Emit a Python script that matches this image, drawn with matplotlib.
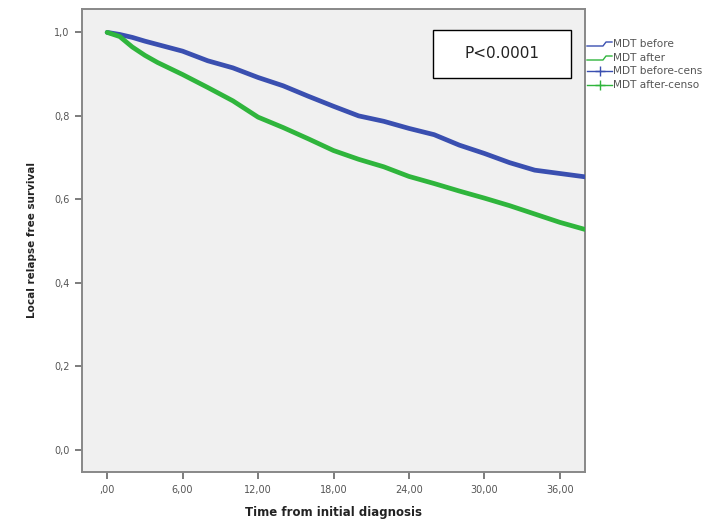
import matplotlib
matplotlib.use("Agg")
import matplotlib.pyplot as plt
from matplotlib.lines import Line2D
from matplotlib.patches import Rectangle

# ---- data ----
time_months = [0, 1, 2, 3, 4, 6, 8, 10, 12, 14, 16, 18, 20, 22, 24, 26, 28, 30, 32, 34, 36, 38]
mdt_before = [1.0, 0.995, 0.988, 0.979, 0.971, 0.955, 0.932, 0.915, 0.892, 0.872, 0.847, 0.823,
              0.800, 0.787, 0.770, 0.755, 0.730, 0.710, 0.688, 0.670, 0.662, 0.654]
mdt_after = [1.0, 0.990, 0.965, 0.945, 0.928, 0.899, 0.868, 0.836, 0.797, 0.772, 0.745, 0.717,
             0.696, 0.678, 0.655, 0.638, 0.620, 0.603, 0.585, 0.565, 0.545, 0.528]
x_ticks = [0, 6, 12, 18, 24, 30, 36]
x_ticklabels = [",00", "6,00", "12,00", "18,00", "24,00", "30,00", "36,00"]
y_ticks = [0.0, 0.2, 0.4, 0.6, 0.8, 1.0]
y_ticklabels = ["0,0", "0,2", "0,4", "0,6", "0,8", "1,0"]
# legend texts as visible in the reference (cut at the image edge there)
legend_labels = ["MDT before", "MDT after", "MDT before-cens", "MDT after-censo"]
p_text = "P<0.0001"

blue = "#3a4fb0"
green = "#2fb53c"

W, H = 716, 522
fig = plt.figure(figsize=(W / 100, H / 100), dpi=100)
fig.patch.set_facecolor("white")
ax = fig.add_axes([82 / W, 1 - 472 / H, (585 - 82) / W, (472 - 9) / H])
ax.set_facecolor("#f0f0f0")

ax.plot(time_months, mdt_before, color=blue, lw=3.4, solid_capstyle="round", zorder=3)
ax.plot(time_months, mdt_after, color=green, lw=3.4, solid_capstyle="round", zorder=3)

ax.set_xlim(-2.0, 38.0)
ax.set_ylim(-0.053, 1.056)
ax.set_xticks(x_ticks)
ax.set_xticklabels(x_ticklabels)
ax.set_yticks(y_ticks)
ax.set_yticklabels(y_ticklabels)
ax.tick_params(axis="both", direction="out", length=5, width=1.2, color="#666666",
               labelsize=7, labelcolor="#555555", pad=4)
for s in ax.spines.values():
    s.set_color("#888888")
    s.set_linewidth(1.4)

ax.set_xlabel("Time from initial diagnosis", fontsize=8.5, fontweight="bold", labelpad=8,
              color="#222222")
ax.set_ylabel("Local relapse free survival", fontsize=7.5, fontweight="bold", labelpad=12,
              color="#222222")

# P-value box
fig.patches.append(Rectangle((433 / W, 1 - 78 / H), (571 - 433) / W, (78 - 30) / H,
                             transform=fig.transFigure, facecolor="white",
                             edgecolor="black", lw=1.0, zorder=5))
fig.text(502 / W, 1 - 54 / H, p_text, ha="center", va="center", fontsize=11,
         color="#222222", zorder=6)

# Legend (outside the axes, at the right edge)
rows_y = [44, 58, 71.5, 85]
colors = [blue, green, blue, green]
for i, (lab, c) in enumerate(zip(legend_labels, colors)):
    yy = 1 - rows_y[i] / H
    if i < 2:
        xs = [587 / W, 603 / W, 606 / W, 612 / W]
        ys = [yy - 2 / H, yy - 2 / H, yy + 2 / H, yy + 2 / H]
        fig.add_artist(Line2D(xs, ys, color=c, lw=1.0, transform=fig.transFigure))
    else:
        fig.add_artist(Line2D([587 / W, 612 / W], [yy, yy], color=c, lw=1.0,
                              transform=fig.transFigure))
        fig.add_artist(Line2D([600 / W], [yy], color=c, marker="+", markersize=7,
                              markeredgewidth=1.0, lw=0, transform=fig.transFigure))
    fig.text(613 / W, yy, lab, fontsize=7.6, va="center", ha="left", color="#555555")

fig.savefig("out.png", dpi=100)
